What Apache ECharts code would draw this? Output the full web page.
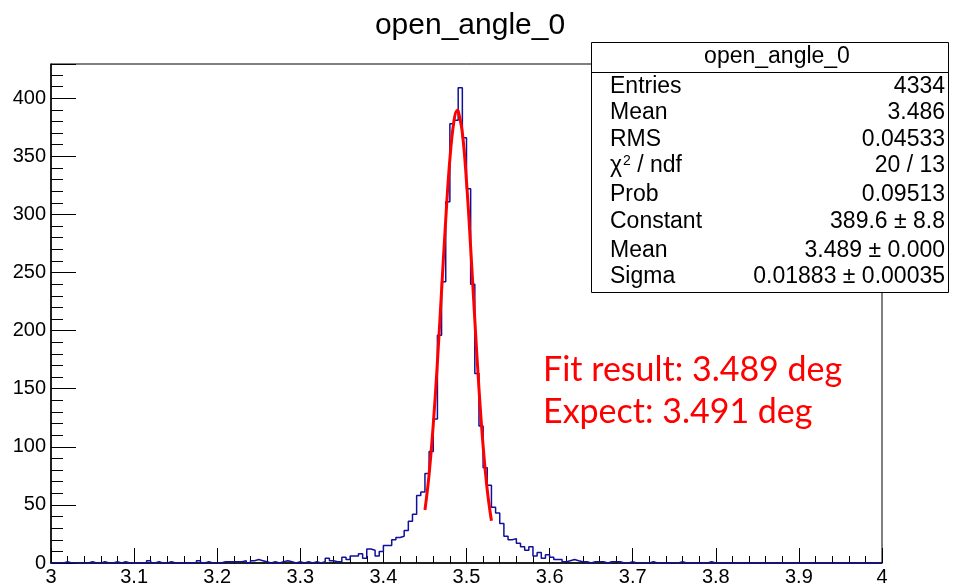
<!DOCTYPE html>
<html><head><meta charset="utf-8">
<script src="https://cdn.jsdelivr.net/npm/echarts@6/dist/echarts.min.js"></script>
<style>html,body{margin:0;padding:0;background:#fff}#c{width:964px;height:587px}</style>
</head><body><div id="c"></div>
<script>
// ---------- data ----------
const histTitle = 'open_angle_0';
const binLow = 3.0;
const binWidth = 0.005;
const counts = [
  0,0,0,1,0,0,0,0,0,1, 0,0,1,0,0,1,0,1,0,0,
  0,0,0,2,0,1,0,0,1,0, 0,0,0,0,0,2,0,1,0,0,
  0,1,1,1,1,1,2,0,2,3, 2,1,0,1,0,1,2,1,0,1,
  0,1,0,1,0,1,4,2,1,1, 5,3,6,6,8,4,12,11,6,10,
  15,15,20,22,23,28,36,42,58,61, 77,96,124,196,242,311,378,381,409,366,
  322,240,163,118,82,67,48,43,34,23, 20,21,17,14,11,14,6,9,4,7,
  5,3,3,1,2,3,2,1,1,0, 1,1,1,0,1,1,1,0,0,1,
  0,0,0,0,1,0,0,0,0,0, 0,1,0,0,0,0,0,0,1,0,
  0,0,0,0,0,0,0,0,0,0, 0,0,0,0,0,0,0,0,0,0,
  0,0,0,0,0,0,0,0,0,0, 0,0,0,0,0,0,0,0,0,0
];
const fitX = [3.450,3.455,3.460,3.465,3.470,3.475,3.480,3.485,3.489,3.490,3.495,3.500,3.505,3.510,3.515,3.520,3.525,3.530];
const fitY = [45.6,76.3,119.0,172.9,234.2,295.5,347.6,380.9,389.6,389.1,370.3,328.5,271.6,209.2,150.2,100.5,62.6,36.4];
const xRange = [3, 4];
const statLabels = ['Entries','Mean','RMS','CHI2','Prob','Constant','Mean','Sigma'];
const statValues = ['4334','3.486','0.04533','20 / 13','0.09513','389.6 ± 8.8','3.489 ± 0.000','0.01883 ± 0.00035'];
const notes = ['Fit result: 3.489 deg','Expect: 3.491 deg'];

// ---------- build ----------
const histPts = counts.map((v, k) => [+(binLow + k * binWidth).toFixed(3), v]);
histPts.push([xRange[1], counts[counts.length - 1]]);
const fitPts = fitX.map((x, i) => [x, fitY[i]]);
const yMax = 1.05 * Math.max(...counts);

const FONT = 'Liberation Sans';
const G = {left: 51, top: 64, width: 831, height: 499};

const chart = echarts.init(document.getElementById('c'), null, {renderer: 'canvas'});

const rowY = [87, 113, 140, 166, 195, 222, 251, 277];
const graphics = [
  {type: 'rect', z: 100, shape: {x: 591.5, y: 42.5, width: 357, height: 250},
   style: {fill: '#fff', stroke: '#000', lineWidth: 1}},
  {type: 'line', z: 101, shape: {x1: 591.5, y1: 72.5, x2: 948.5, y2: 72.5},
   style: {stroke: '#000', lineWidth: 1}},
  {type: 'text', z: 101, x: 777, y: 57,
   style: {text: histTitle, font: '23px "' + FONT + '"', fill: '#000', align: 'center', verticalAlign: 'middle'}}
];
statLabels.forEach((lab, i) => {
  const t = lab === 'CHI2'
    ? {text: '{a|χ}{s|2}{a| / ndf}', rich: {a: {fontSize: 23, fontFamily: FONT, fill: '#000'}, s: {fontSize: 14, fontFamily: FONT, fill: '#000', verticalAlign: 'top', padding: [0,0,0,1]}}}
    : {text: lab};
  graphics.push({type: 'text', z: 101, x: 610, y: rowY[i],
    style: Object.assign({font: '23px "' + FONT + '"', fill: '#000', align: 'left', verticalAlign: 'middle'}, t)});
  graphics.push({type: 'text', z: 101, x: 945, y: rowY[i],
    style: {text: statValues[i], font: '23px "' + FONT + '"', fill: '#000', align: 'right', verticalAlign: 'middle'}});
});
[370, 412].forEach((yy, i) => {
  graphics.push({type: 'text', z: 101, x: 543, y: yy,
    style: {text: notes[i], font: '34px Lato', fill: '#ff0000', align: 'left', verticalAlign: 'middle'}});
});

const axisTxt = {color: '#000', fontSize: 20, fontFamily: FONT};
chart.setOption({
  animation: false,
  backgroundColor: '#fff',
  title: {text: histTitle, left: 465, top: 6, textAlign: 'center',
    textStyle: {fontFamily: FONT, fontSize: 30, fontWeight: 'normal', color: '#000'}},
  grid: Object.assign({show: true, borderColor: '#000', borderWidth: 1, backgroundColor: 'transparent'}, G),
  xAxis: [
    {type: 'value', min: xRange[0], max: xRange[1], interval: 0.1,
     axisLine: {show: true, onZero: false, lineStyle: {color: '#000', width: 1.5}},
     axisTick: {show: true, inside: true, length: 15, lineStyle: {color: '#000', width: 1}},
     axisLabel: Object.assign({margin: 4}, axisTxt),
     splitLine: {show: false}},
    {type: 'value', min: xRange[0], max: xRange[1], interval: 0.02, position: 'bottom',
     axisLine: {show: false}, axisLabel: {show: false}, splitLine: {show: false},
     axisTick: {show: true, inside: true, length: 7, lineStyle: {color: '#000', width: 1}}}
  ],
  yAxis: [
    {type: 'value', min: 0, max: yMax, interval: 50,
     axisLine: {show: true, onZero: false, lineStyle: {color: '#000', width: 1.5}},
     axisTick: {show: true, inside: true, length: 25, lineStyle: {color: '#000', width: 1}},
     axisLabel: Object.assign({margin: 5, formatter: v => (Math.abs(v % 50) < 1e-9 ? String(v) : '')}, axisTxt),
     splitLine: {show: false}},
    {type: 'value', min: 0, max: yMax, interval: 10, position: 'left',
     axisLine: {show: false}, axisLabel: {show: false}, splitLine: {show: false},
     axisTick: {show: true, inside: true, length: 12, lineStyle: {color: '#000', width: 1}}}
  ],
  series: [
    {type: 'line', name: 'hist', data: histPts, step: 'end', showSymbol: false, symbol: 'none',
     lineStyle: {color: '#10109a', width: 1.5}, z: 3, clip: true},
    {type: 'line', name: 'fit', data: fitPts, smooth: 0.4, showSymbol: false, symbol: 'none',
     lineStyle: {color: '#ff0000', width: 3}, z: 4}
  ],
  graphic: graphics
});
</script></body></html>
